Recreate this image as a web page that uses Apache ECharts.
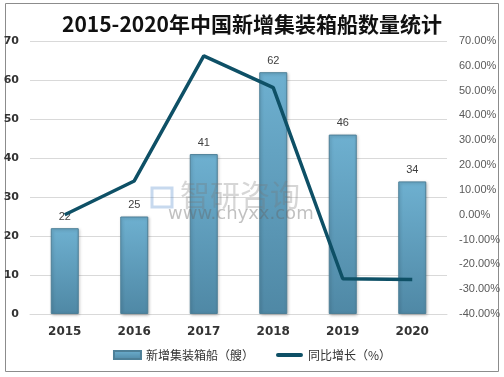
<!DOCTYPE html>
<html><head><meta charset="utf-8">
<script src="https://cdn.jsdelivr.net/npm/echarts@6/dist/echarts.min.js"></script>
<style>html,body{margin:0;padding:0;background:#fff}#c{width:504px;height:377px}</style>
</head><body><div id="c"></div>
<script>
var categories = ['2015','2016','2017','2018','2019','2020'];
var newShips = [22, 25, 41, 62, 46, 34];
var growthPct = [0, 13.6, 64, 51.2, -25.8, -26.1];
var titleText = '2015-2020年中国新增集装箱船数量统计';
var barName = '新增集装箱船（艘）';
var lineName = '同比增长（%）';

var chart = echarts.init(document.getElementById('c'), null, {renderer:'canvas'});
chart.setOption({
  animation:false,
  backgroundColor:'#fff',
  title:{text:titleText,left:'center',top:9,
    textStyle:{fontFamily:'"Noto Sans CJK SC", "DejaVu Serif", serif',fontSize:21,fontWeight:'bold',color:'#111'}},
  graphic:[
    {type:'rect',shape:{x:5.5,y:3.5,width:493,height:368},style:{fill:'none',stroke:'#8c8c8c',lineWidth:1},z:-1},
    {type:'rect',shape:{x:152,y:188,width:20,height:19},style:{fill:'none',stroke:'rgba(70,130,200,0.3)',lineWidth:3},z:100},
    {type:'text',left:180,top:180,style:{text:'智研咨询',fontSize:30,fill:'rgba(120,120,120,0.3)',fontFamily:'"Noto Sans CJK SC"'},z:100},
    {type:'text',left:168,top:205,style:{text:'www.chyxx.com',fontSize:18,fill:'rgba(100,100,100,0.4)',fontFamily:'"DejaVu Sans"'},z:100}
  ],
  legend:{bottom:11,left:'center',itemGap:22,itemWidth:27,itemHeight:8,
    textStyle:{fontSize:12,color:'#333',fontFamily:'"Noto Sans CJK SC"'},
    data:[{name:barName,icon:'rect'},{name:lineName,icon:'path://M2,0 L25,0 A2,2 0 0 1 25,4 L2,4 A2,2 0 0 1 2,0 Z'}]},
  grid:{left:30,right:57,top:41,bottom:63},
  xAxis:{type:'category',data:categories,
    axisLine:{lineStyle:{color:'#d9d9d9'}},axisTick:{show:false},
    axisLabel:{color:'#333',fontWeight:'bold',fontSize:12,margin:12,fontFamily:'"DejaVu Sans"'}},
  yAxis:[
    {type:'value',min:0,max:70,interval:10,
     axisLine:{show:false},axisTick:{show:false},
     splitLine:{lineStyle:{color:'#d9d9d9'}},
     axisLabel:{color:'#333',fontWeight:'bold',fontSize:11,margin:11,fontFamily:'"DejaVu Sans"'}},
    {type:'value',min:-40,max:70,interval:10,
     axisLine:{show:false},axisTick:{show:false},splitLine:{show:false},
     axisLabel:{color:'#595959',fontSize:11,margin:12,fontFamily:'"Liberation Sans"',
       formatter:function(v){return v.toFixed(2)+'%';}}}
  ],
  series:[
    {name:barName,type:'bar',data:newShips,barWidth:28,
     itemStyle:{color:new echarts.graphic.LinearGradient(0,0,0,1,[{offset:0,color:'#6eb0d0'},{offset:1,color:'#4f88a5'}]),
       borderColor:'#4d7f97',borderWidth:1,shadowColor:'rgba(0,0,0,0.25)',shadowBlur:3,shadowOffsetX:1,shadowOffsetY:1},
     label:{show:true,position:'top',color:'#404040',fontSize:11,distance:6,fontFamily:'"Liberation Sans"'}},
    {name:lineName,type:'line',yAxisIndex:1,data:growthPct,symbol:'none',
     lineStyle:{color:'#0e5066',width:3.5},itemStyle:{color:'#0e5066'}}
  ]
});
</script></body></html>
